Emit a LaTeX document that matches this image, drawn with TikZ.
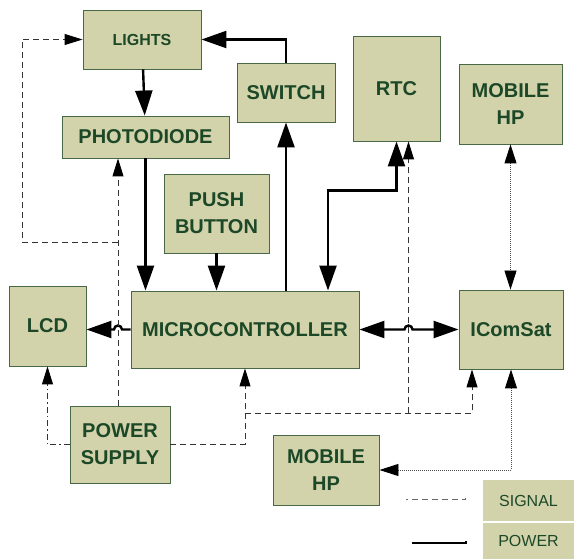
\documentclass[tikz,border=0pt]{standalone}
\usepackage{fontspec}
\setmainfont{Liberation Sans}
\usetikzlibrary{arrows.meta}

\definecolor{boxfill}{RGB}{211,211,171}
\definecolor{boxline}{RGB}{72,104,72}
\definecolor{boxtext}{RGB}{28,72,40}

\begin{document}
\begin{tikzpicture}[
			x=1pt,
			y=1pt,
			block/.style={
				draw=boxline,
				fill=boxfill,
				line width=0.9pt,
				inner sep=0pt,
				align=center,
				text=boxtext,
				font=\bfseries\fontsize{20}{27}\selectfont
			},
			keybox/.style={
				fill=boxfill,
				inner sep=0pt,
				minimum width=91pt,
				text=boxtext,
				font=\fontsize{16}{19}\selectfont
			},
			powerline/.style={
				line width=2.4pt,
				>={Triangle[length=25pt,width=17pt]}
			},
			signalline/.style={
				line width=0.9pt,
				black!80,
				dash pattern=on 6pt off 4pt,
				>={Triangle[length=18pt,width=11pt,color=black]}
			},
			supplyline/.style={
				line width=0.9pt,
				black!80,
				dash pattern=on 6pt off 3pt on 1.5pt off 3pt,
				>={Triangle[length=18pt,width=11pt,color=black]}
			},
			linkline/.style={
				line width=0.9pt,
				black!70,
				dash pattern=on 1pt off 1pt,
				>={Triangle[length=19pt,width=12pt,color=black]}
			}
			]
			
			\useasboundingbox (0,0) rectangle (574,-559);
			
			%%%%%%%%%%%%%%%%%%%%%%%%%%%%%%%%%%%%%%%%%%%%%%%%%%%%%%
			% Blocks
			%%%%%%%%%%%%%%%%%%%%%%%%%%%%%%%%%%%%%%%%%%%%%%%%%%%%%%
			
			\node[block, minimum width=118pt, minimum height=59pt,
			font=\bfseries\fontsize{16}{19}\selectfont]
			(lights) at (142,-39.5) {LIGHTS};
			
			\node[block, minimum width=167pt, minimum height=42pt]
			(photodiode) at (145.5,-137) {PHOTODIODE};
			
			\node[block, minimum width=98pt, minimum height=59pt]
			(switch) at (286,-92.5) {SWITCH};
			
			\node[block, minimum width=105pt, minimum height=79pt]
			(pushbutton) at (216.5,-213.5) {PUSH\\BUTTON};
			
			\node[block, minimum width=87pt, minimum height=105pt]
			(rtc) at (396.5,-88.5) {RTC};
			
			\node[block, minimum width=103pt, minimum height=80pt]
			(mobiletop) at (510.5,-104) {MOBILE\\HP};
			
			\node[block, minimum width=77pt, minimum height=80pt]
			(lcd) at (47.5,-326) {LCD};
			
			\node[block, minimum width=228pt, minimum height=77pt]
			(micro) at (245,-329.5) {MICROCONTROLLER};
			
			\node[block, minimum width=104pt, minimum height=79pt]
			(icomsat) at (511,-329.5) {IComSat};
			
			\node[block, minimum width=100pt, minimum height=77pt]
			(supply) at (120,-444.5) {POWER\\SUPPLY};
			
			\node[block, minimum width=106pt, minimum height=70pt]
			(mobilebot) at (326,-470) {MOBILE\\HP};
			
			\node[keybox, minimum height=41pt]
			(signalkey) at (528.5,-500.5) {SIGNAL};
			
			\node[keybox, minimum height=36pt]
			(powerkey) at (528.5,-541) {POWER};
			
			%%%%%%%%%%%%%%%%%%%%%%%%%%%%%%%%%%%%%%%%%%%%%%%%%%%%%%
			% Helper points
			%%%%%%%%%%%%%%%%%%%%%%%%%%%%%%%%%%%%%%%%%%%%%%%%%%%%%%
			
			\coordinate (photoin) at ([xshift=-27.5pt]photodiode.south);
			\coordinate (rtcin) at ([xshift=12pt]rtc.south);
			\coordinate (icomin) at ([xshift=-39pt]icomsat.south);
			\coordinate (tap) at ([yshift=-45pt]micro.south);
			\coordinate (ltap) at ([yshift=-84pt]photoin);
			\coordinate (hopr) at (rtcin |- micro.east);
			\coordinate (hopl) at (photoin |- micro.west);
			
			%%%%%%%%%%%%%%%%%%%%%%%%%%%%%%%%%%%%%%%%%%%%%%%%%%%%%%
			% Power Flow
			%%%%%%%%%%%%%%%%%%%%%%%%%%%%%%%%%%%%%%%%%%%%%%%%%%%%%%
			
			\draw[powerline,->]
			(lights) -- (photodiode);
			
			\draw[powerline,->]
			(switch.north) |- (lights.east);
			
			\draw[powerline,->]
			(switch |- micro.north) -- (switch);
			
			\draw[powerline,->]
			(photodiode) -- (photodiode |- micro.north);
			
			\draw[powerline,->]
			(pushbutton) -- (pushbutton |- micro.north);
			
			\draw[powerline,<->]
			([xshift=83pt]micro.north)
			|- ([yshift=-49pt]rtc.south)
			-- (rtc.south);
			
			\draw[powerline,<->]
			(micro.east)
			-- ([xshift=-4pt]hopr)
			arc[start angle=180, end angle=0, radius=4pt]
			-- (icomsat.west);
			
			\draw[powerline,->]
			(micro.west)
			-- ([xshift=4pt]hopl)
			arc[start angle=0, end angle=180, radius=4pt]
			-- (lcd.east |- hopl);
			
			%%%%%%%%%%%%%%%%%%%%%%%%%%%%%%%%%%%%%%%%%%%%%%%%%%%%%%
			% Signal Flow
			%%%%%%%%%%%%%%%%%%%%%%%%%%%%%%%%%%%%%%%%%%%%%%%%%%%%%%
			
			\draw[signalline,->]
			(supply.east) -| (micro.south);
			
			\draw[signalline,->]
			(tap) -| (icomin);
			
			\draw[signalline,->]
			(rtcin |- tap) -- (rtcin);
			
			\draw[signalline,->]
			(photoin |- supply.north) -- (photoin);
			
			\draw[signalline,->]
			(ltap) -- ++(-96,0) |- (lights.west);
			
			\draw[supplyline,->]
			(supply.west) -| (lcd.south);
			
			%%%%%%%%%%%%%%%%%%%%%%%%%%%%%%%%%%%%%%%%%%%%%%%%%%%%%%
			% Mobile Links
			%%%%%%%%%%%%%%%%%%%%%%%%%%%%%%%%%%%%%%%%%%%%%%%%%%%%%%
			
			\draw[linkline,<->]
			(mobiletop.south) -- (mobiletop.south |- icomsat.north);
			
			\draw[linkline,<->]
			(icomsat.south) |- (mobilebot.east);
			
			%%%%%%%%%%%%%%%%%%%%%%%%%%%%%%%%%%%%%%%%%%%%%%%%%%%%%%
			% Legend
			%%%%%%%%%%%%%%%%%%%%%%%%%%%%%%%%%%%%%%%%%%%%%%%%%%%%%%
			
			\draw[signalline,black!60]
			([xshift=-17pt,yshift=3pt]signalkey.west) -- ++(0,-2) -- ++(-60,0);
			
			\draw[line width=2pt]
			([xshift=-17pt]powerkey.west) -- ++(0,-2) -- ++(-54,0);
			
		\end{tikzpicture}
\end{document}
